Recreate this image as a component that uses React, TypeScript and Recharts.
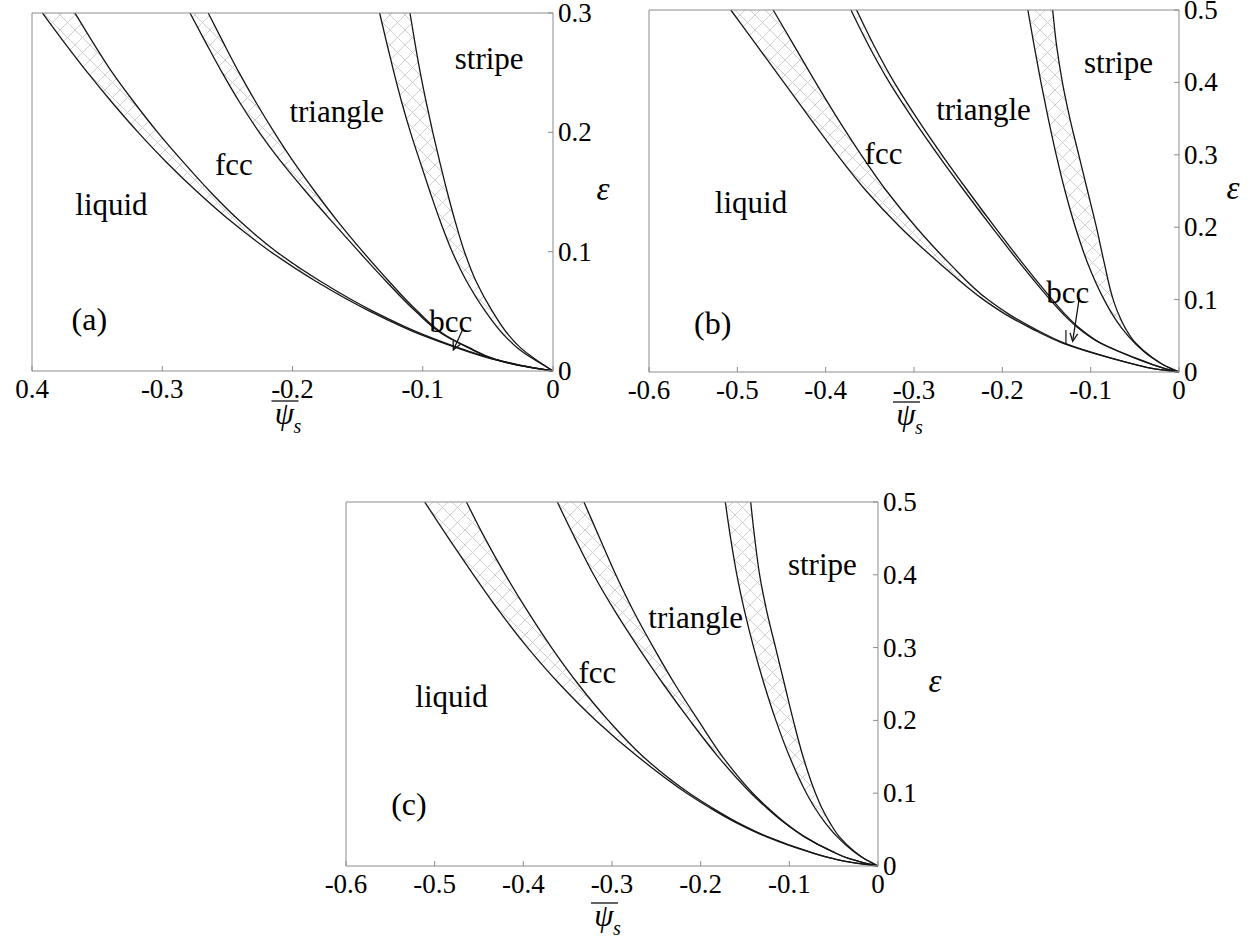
import React from 'react';
import {
  ComposedChart,
  Area,
  XAxis,
  YAxis,
  ReferenceDot,
  ReferenceLine,
} from 'recharts';

const SERIF = "'Liberation Serif', 'DejaVu Serif', 'Times New Roman', serif";
const FRAME = '#8c8c8c';
const INK = '#161616';

// ---------- panel (a) ----------
const epsA = [0, 0.005, 0.01, 0.02, 0.03, 0.05, 0.075, 0.1, 0.125, 0.15, 0.175, 0.2, 0.225, 0.25, 0.275, 0.3];
// liquid / fcc coexistence (left edge, right edge)
const liqFccLoA = [0, -0.0275, -0.0465, -0.0755, -0.1005, -0.1405, -0.1818, -0.2168, -0.2468, -0.273, -0.2968, -0.3185, -0.3385, -0.3573, -0.375, -0.392];
const liqFccHiA = [0, -0.027, -0.0455, -0.074, -0.0985, -0.138, -0.1783, -0.2123, -0.2398, -0.263, -0.2838, -0.3035, -0.3215, -0.3383, -0.353, -0.367];
// fcc / triangle coexistence
const fccTriLoA = [0, -0.026, -0.045, -0.066, -0.0835, -0.1055, -0.128, -0.149, -0.1695, -0.1895, -0.2085, -0.2255, -0.2405, -0.254, -0.2665, -0.2787];
const fccTriHiA = [0, -0.0257, -0.0445, -0.0652, -0.0825, -0.104, -0.1258, -0.146, -0.165, -0.1825, -0.199, -0.214, -0.228, -0.241, -0.253, -0.2647];
// triangle / stripe coexistence
const triStrLoA = [0, -0.0075, -0.015, -0.028, -0.0375, -0.0519, -0.0662, -0.0774, -0.0864, -0.0944, -0.102, -0.1094, -0.1161, -0.1221, -0.1277, -0.1331];
const triStrHiA = [0, -0.0069, -0.0138, -0.0255, -0.034, -0.0465, -0.059, -0.068, -0.075, -0.0812, -0.0869, -0.0923, -0.0973, -0.1019, -0.106, -0.1098];

// ---------- panel (b) ----------
const epsB = [0, 0.005, 0.01, 0.02, 0.04, 0.06, 0.08, 0.1, 0.15, 0.2, 0.25, 0.3, 0.35, 0.4, 0.45, 0.5];
const liqFccLoB = [0, -0.031, -0.0483, -0.0795, -0.1318, -0.1669, -0.1968, -0.2214, -0.2709, -0.3156, -0.354, -0.3868, -0.4174, -0.4474, -0.4774, -0.5074];
const liqFccHiB = [0, -0.0305, -0.0478, -0.0785, -0.1298, -0.1639, -0.1928, -0.2164, -0.2599, -0.2976, -0.331, -0.3598, -0.3864, -0.4114, -0.4354, -0.4594];
const fccTriLoB = [0, -0.017, -0.0295, -0.0515, -0.0895, -0.1135, -0.1311, -0.1459, -0.1799, -0.2119, -0.2429, -0.2729, -0.3014, -0.3279, -0.3509, -0.3714];
const fccTriHiB = [0, -0.0167, -0.029, -0.0507, -0.0885, -0.112, -0.1291, -0.1434, -0.1769, -0.2084, -0.2389, -0.2684, -0.2964, -0.3224, -0.3449, -0.365];
const triStrLoB = [0, -0.0095, -0.018, -0.031, -0.05, -0.0644, -0.0756, -0.0848, -0.1033, -0.1173, -0.129, -0.139, -0.148, -0.1563, -0.1639, -0.1711];
const triStrHiB = [0, -0.0093, -0.0178, -0.0302, -0.0492, -0.0605, -0.0685, -0.0745, -0.0845, -0.0935, -0.1035, -0.1135, -0.1235, -0.132, -0.1385, -0.143];
// fcc | bcc boundary segment
const fccBccPsiB = -0.128;
const fccBccEpsB = [0.038, 0.058];

// ---------- panel (c) ----------
const epsC = [0, 0.005, 0.01, 0.02, 0.04, 0.06, 0.08, 0.1, 0.15, 0.2, 0.25, 0.3, 0.35, 0.4, 0.45, 0.5];
const liqFccLoC = [0, -0.03, -0.0505, -0.0795, -0.1255, -0.1607, -0.1897, -0.2157, -0.2707, -0.3182, -0.3592, -0.3952, -0.4272, -0.4562, -0.4842, -0.5112];
const liqFccHiC = [0, -0.0297, -0.05, -0.0785, -0.124, -0.1587, -0.1872, -0.2127, -0.2647, -0.3042, -0.3382, -0.3682, -0.3952, -0.4202, -0.4432, -0.4642];
const fccTriLoC = [0, -0.018, -0.0325, -0.052, -0.083, -0.1064, -0.1258, -0.1432, -0.1802, -0.2122, -0.2422, -0.2702, -0.2967, -0.3207, -0.3417, -0.3617];
const fccTriHiC = [0, -0.0178, -0.0322, -0.0516, -0.0825, -0.1054, -0.1243, -0.1412, -0.1752, -0.2027, -0.2292, -0.2532, -0.2757, -0.2957, -0.3137, -0.3317];
const triStrLoC = [0, -0.008, -0.0155, -0.0275, -0.0459, -0.0599, -0.0713, -0.0807, -0.0997, -0.1152, -0.1285, -0.1402, -0.1505, -0.1592, -0.1662, -0.1722];
const triStrHiC = [0, -0.0078, -0.0152, -0.0265, -0.0435, -0.0545, -0.0635, -0.0705, -0.0845, -0.0955, -0.1055, -0.1155, -0.1255, -0.1335, -0.139, -0.1436];

// axis ticks
const psiTicksA = [-0.4, -0.3, -0.2, -0.1, 0];
const psiTicksBC = [-0.6, -0.5, -0.4, -0.3, -0.2, -0.1, 0];
const epsTicksA = [0, 0.1, 0.2, 0.3];
const epsTicksBC = [0, 0.1, 0.2, 0.3, 0.4, 0.5];

// annotation anchors (data coordinates)
const notesA = [
  { text: 'liquid', psi: -0.339, eps: 0.139 },
  { text: 'fcc', psi: -0.245, eps: 0.173 },
  { text: 'triangle', psi: -0.166, eps: 0.217 },
  { text: 'stripe', psi: -0.049, eps: 0.262 },
  { text: 'bcc', psi: -0.0785, eps: 0.0416 },
];
const notesB = [
  { text: 'liquid', psi: -0.4845, eps: 0.234 },
  { text: 'fcc', psi: -0.3345, eps: 0.3015 },
  { text: 'triangle', psi: -0.2213, eps: 0.3627 },
  { text: 'stripe', psi: -0.0685, eps: 0.4272 },
  { text: 'bcc', psi: -0.126, eps: 0.1095 },
];
const notesC = [
  { text: 'liquid', psi: -0.481, eps: 0.233 },
  { text: 'fcc', psi: -0.3164, eps: 0.2651 },
  { text: 'triangle', psi: -0.2056, eps: 0.3407 },
  { text: 'stripe', psi: -0.0628, eps: 0.4139 },
];

const buildRows = (eps: number[], a: number[], b: number[], c: number[], d: number[], e: number[], f: number[]) =>
  eps.map((v, i) => ({ eps: v, lf: [a[i], b[i]], ft: [c[i], d[i]], ts: [e[i], f[i]] }));

const Arrow = (props: any) => {
  const { x1, y1, x2, y2 } = props;
  const ang = Math.atan2(y2 - y1, x2 - x1);
  const len = 9;
  const p1 = `${x2 - len * Math.cos(ang - 0.45)},${y2 - len * Math.sin(ang - 0.45)}`;
  const p2 = `${x2 - len * Math.cos(ang + 0.45)},${y2 - len * Math.sin(ang + 0.45)}`;
  return (
    <g>
      <line x1={x1} y1={y1} x2={x2} y2={y2} stroke={INK} strokeWidth={1.3} />
      <polyline points={`${p1} ${x2},${y2} ${p2}`} fill="none" stroke={INK} strokeWidth={1.3} />
    </g>
  );
};

const PsiLabel = ({ viewBox, drop }: any) => {
  const cx = viewBox.x + viewBox.width / 2;
  const top = viewBox.y + drop;
  return (
    <g>
      <line x1={cx - 21} y1={top} x2={cx + 6} y2={top} stroke="#222" strokeWidth={1.4} />
      <text x={cx - 8} y={top + 23} textAnchor="middle" fontFamily={SERIF} fontStyle="italic" fontSize={31} fill="#000">ψ</text>
      <text x={cx + 1} y={top + 32} fontFamily={SERIF} fontStyle="italic" fontSize={20} fill="#000">s</text>
    </g>
  );
};

const EpsLabel = ({ viewBox, shift }: any) => (
  <text
    x={viewBox.x + shift}
    y={viewBox.y + viewBox.height / 2 + 8}
    textAnchor="middle"
    fontFamily={SERIF}
    fontStyle="italic"
    fontSize={33}
    fill="#000"
  >
    ε
  </text>
);

const XTick = ({ x, y, payload, fixFirst }: any) => (
  <text x={x} y={y + 17} textAnchor="middle" fontFamily={SERIF} fontSize={27} fill="#000">
    {fixFirst && payload.value === -0.4 ? '0.4' : String(payload.value)}
  </text>
);

const YTick = ({ x, y, payload }: any) => (
  <text x={x} y={y + 9} textAnchor="start" fontFamily={SERIF} fontSize={27} fill="#000">
    {String(payload.value)}
  </text>
);

const NoteText = ({ viewBox, text, size }: any) => (
  <text
    x={viewBox.x + viewBox.width / 2}
    y={viewBox.y + viewBox.height / 2 + size * 0.33}
    textAnchor="middle"
    fontFamily={SERIF}
    fontSize={size}
    fill="#000"
  >
    {text}
  </text>
);

interface PanelProps {
  rows: any[];
  left: number;
  top: number;
  width: number;
  height: number;
  margin: any;
  psiDomain: number[];
  psiTicks: number[];
  epsMax: number;
  epsTicks: number[];
  notes: { text: string; psi: number; eps: number }[];
  tag: string;
  tagAt: { psi: number; eps: number };
  arrow?: { psi: number; eps: number }[];
  fixFirst?: boolean;
  psiDrop: number;
  epsShift: number;
  extraSeg?: { psi: number; eps: number[] };
}

const Panel = (p: PanelProps) => (
  <div style={{ position: 'absolute', left: p.left, top: p.top }}>
    <ComposedChart layout="vertical" width={p.width} height={p.height} data={p.rows} margin={p.margin}>
      <XAxis
        xAxisId="b"
        type="number"
        orientation="bottom"
        domain={p.psiDomain}
        ticks={p.psiTicks}
        interval={0}
        height={40}
        tickSize={-5}
        tickMargin={15}
        tick={(tp: any) => <XTick {...tp} fixFirst={p.fixFirst} />}
        axisLine={{ stroke: FRAME }}
        tickLine={{ stroke: FRAME }}
        label={{ content: (lp: any) => <PsiLabel viewBox={lp.viewBox} drop={p.psiDrop} /> }}
      />
      <XAxis
        xAxisId="t"
        type="number"
        orientation="top"
        domain={p.psiDomain}
        ticks={p.psiTicks}
        interval={0}
        height={1}
        tickSize={-5}
        tick={false}
        axisLine={{ stroke: FRAME }}
        tickLine={{ stroke: FRAME }}
      />
      <YAxis
        yAxisId="r"
        type="number"
        dataKey="eps"
        orientation="right"
        reversed
        domain={[0, p.epsMax]}
        ticks={p.epsTicks}
        interval={0}
        width={60}
        tickSize={-5}
        tickMargin={10}
        tick={(tp: any) => <YTick {...tp} />}
        axisLine={{ stroke: FRAME }}
        tickLine={{ stroke: FRAME }}
        label={{ content: (lp: any) => <EpsLabel viewBox={lp.viewBox} shift={p.epsShift} /> }}
      />
      <YAxis
        yAxisId="l"
        type="number"
        dataKey="eps"
        orientation="left"
        reversed
        domain={[0, p.epsMax]}
        ticks={p.epsTicks}
        interval={0}
        width={1}
        tickSize={-5}
        tick={false}
        axisLine={{ stroke: FRAME }}
        tickLine={{ stroke: FRAME }}
      />
      {['lf', 'ft', 'ts'].map((k) => (
        <Area
          key={k}
          xAxisId="b"
          yAxisId="r"
          dataKey={k}
          type="monotone"
          fill="url(#xhatch)"
          fillOpacity={1}
          stroke={INK}
          strokeWidth={1.3}
          isAnimationActive={false}
        />
      ))}
      {p.extraSeg && (
        <ReferenceLine
          xAxisId="b"
          yAxisId="r"
          segment={[
            { x: p.extraSeg.psi, y: p.extraSeg.eps[0] },
            { x: p.extraSeg.psi, y: p.extraSeg.eps[1] },
          ]}
          stroke={INK}
          strokeWidth={1.2}
        />
      )}
      {p.arrow && (
        <ReferenceLine
          xAxisId="b"
          yAxisId="r"
          segment={[
            { x: p.arrow[0].psi, y: p.arrow[0].eps },
            { x: p.arrow[1].psi, y: p.arrow[1].eps },
          ]}
          shape={Arrow}
        />
      )}
      {p.notes.map((n) => (
        <ReferenceDot
          key={n.text}
          xAxisId="b"
          yAxisId="r"
          x={n.psi}
          y={n.eps}
          r={0}
          fill="none"
          stroke="none"
          label={{ content: (lp: any) => <NoteText viewBox={lp.viewBox} text={n.text} size={31} /> }}
        />
      ))}
      <ReferenceDot
        xAxisId="b"
        yAxisId="r"
        x={p.tagAt.psi}
        y={p.tagAt.eps}
        r={0}
        fill="none"
        stroke="none"
        label={{ content: (lp: any) => <NoteText viewBox={lp.viewBox} text={p.tag} size={32} /> }}
      />
    </ComposedChart>
  </div>
);

export default function App() {
  const rowsA = buildRows(epsA, liqFccLoA, liqFccHiA, fccTriLoA, fccTriHiA, triStrLoA, triStrHiA);
  const rowsB = buildRows(epsB, liqFccLoB, liqFccHiB, fccTriLoB, fccTriHiB, triStrLoB, triStrHiB);
  const rowsC = buildRows(epsC, liqFccLoC, liqFccHiC, fccTriLoC, fccTriHiC, triStrLoC, triStrHiC);

  return (
    <div style={{ position: 'absolute', left: 0, top: 0, width: 1255, height: 947, background: '#fff', overflow: 'hidden' }}>
      <svg width={0} height={0} style={{ position: 'absolute' }}>
        <defs>
          <pattern id="xhatch" width={15} height={15} patternUnits="userSpaceOnUse">
            <path d="M-1,-1 L16,16 M16,-1 L-1,16" stroke="#d0d0d0" strokeWidth={1} />
          </pattern>
        </defs>
      </svg>

      <Panel
        rows={rowsA}
        left={0}
        top={0}
        width={640}
        height={450}
        margin={{ top: 12, left: 31, right: 27, bottom: 39 }}
        psiDomain={[-0.4, 0]}
        psiTicks={psiTicksA}
        epsMax={0.3}
        epsTicks={epsTicksA}
        notes={notesA}
        tag="(a)"
        tagAt={{ psi: -0.356, eps: 0.0436 }}
        arrow={[{ psi: -0.0689, eps: 0.0358 }, { psi: -0.0765, eps: 0.0176 }]}
        fixFirst
        psiDrop={30}
        epsShift={50}
      />
      <Panel
        rows={rowsB}
        left={620}
        top={0}
        width={635}
        height={450}
        margin={{ top: 9, left: 28, right: 16, bottom: 38 }}
        psiDomain={[-0.6, 0]}
        psiTicks={psiTicksBC}
        epsMax={0.5}
        epsTicks={epsTicksBC}
        notes={notesB}
        tag="(b)"
        tagAt={{ psi: -0.5279, eps: 0.0667 }}
        arrow={[{ psi: -0.1129, eps: 0.1022 }, { psi: -0.1204, eps: 0.0424 }]}
        psiDrop={30}
        epsShift={54}
        extraSeg={{ psi: fccBccPsiB, eps: fccBccEpsB }}
      />
      <Panel
        rows={rowsC}
        left={300}
        top={470}
        width={660}
        height={477}
        margin={{ top: 31, left: 45, right: 22, bottom: 41 }}
        psiDomain={[-0.6, 0]}
        psiTicks={psiTicksBC}
        epsMax={0.5}
        epsTicks={epsTicksBC}
        notes={notesC}
        tag="(c)"
        tagAt={{ psi: -0.529, eps: 0.0848 }}
        psiDrop={37}
        epsShift={57}
      />
    </div>
  );
}
